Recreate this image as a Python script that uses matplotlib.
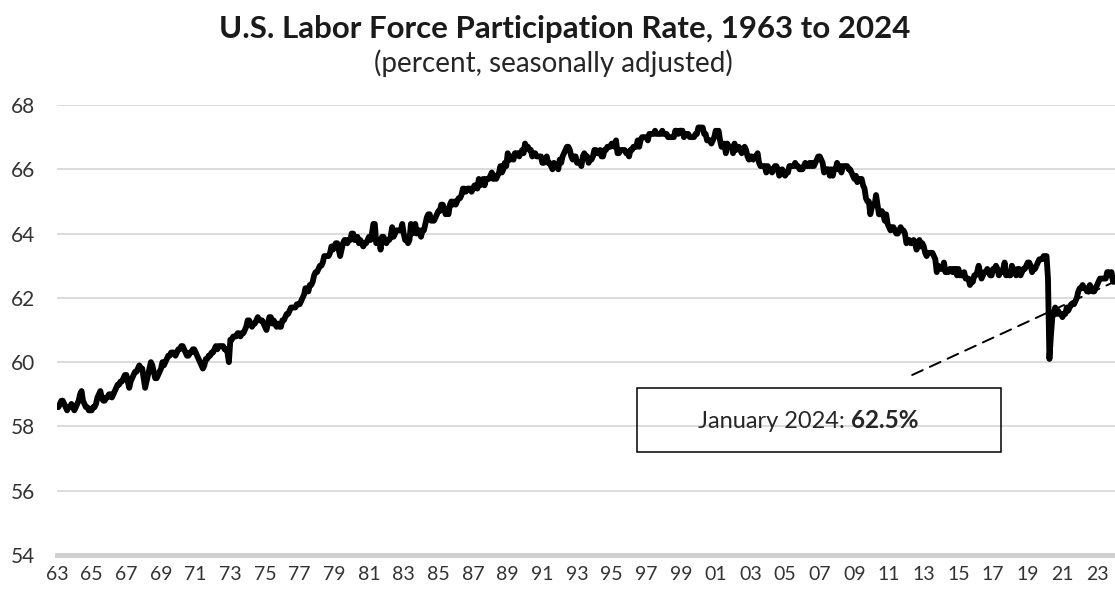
import numpy as np
import matplotlib
matplotlib.use("Agg")
import matplotlib.pyplot as plt
from matplotlib.patches import Rectangle

plt.rcParams['font.family'] = ['Lato', 'DejaVu Sans']

# monthly LFPR, Jan 1963 .. Jan 2024 (one row per year)
lfpr = [
    58.6, 58.6, 58.7, 58.8, 58.8, 58.7, 58.6, 58.5, 58.6, 58.6, 58.7, 58.6,  # 1963
    58.5, 58.6, 58.7, 58.8, 59.0, 59.1, 58.8, 58.7, 58.6, 58.6, 58.5, 58.5,  # 1964
    58.5, 58.6, 58.6, 58.7, 58.9, 59.0, 59.1, 58.9, 58.8, 58.8, 58.9, 58.9,  # 1965
    59.0, 59.0, 58.9, 59.0, 59.1, 59.2, 59.3, 59.3, 59.4, 59.4, 59.5, 59.6,  # 1966
    59.6, 59.4, 59.2, 59.4, 59.5, 59.6, 59.7, 59.7, 59.8, 59.9, 59.8, 59.8,  # 1967
    59.5, 59.2, 59.4, 59.6, 59.8, 60.0, 59.9, 59.7, 59.5, 59.5, 59.6, 59.7,  # 1968
    59.8, 60.0, 59.9, 60.0, 60.1, 60.2, 60.2, 60.3, 60.3, 60.3, 60.2, 60.3,  # 1969
    60.4, 60.4, 60.5, 60.5, 60.4, 60.3, 60.2, 60.2, 60.3, 60.3, 60.4, 60.4,  # 1970
    60.3, 60.2, 60.1, 60.0, 59.9, 59.8, 59.9, 60.1, 60.1, 60.2, 60.2, 60.3,  # 1971
    60.3, 60.4, 60.5, 60.4, 60.5, 60.5, 60.5, 60.5, 60.4, 60.4, 60.3, 60.0,  # 1972
    60.7, 60.7, 60.8, 60.8, 60.8, 60.9, 60.9, 60.8, 60.9, 60.9, 61.0, 61.1,  # 1973
    61.3, 61.3, 61.2, 61.1, 61.2, 61.2, 61.3, 61.4, 61.3, 61.3, 61.3, 61.2,  # 1974
    61.1, 61.0, 61.2, 61.4, 61.4, 61.2, 61.3, 61.2, 61.1, 61.2, 61.1, 61.1,  # 1975
    61.3, 61.3, 61.4, 61.5, 61.5, 61.6, 61.7, 61.7, 61.7, 61.7, 61.8, 61.8,  # 1976
    61.8, 61.9, 62.0, 62.1, 62.3, 62.2, 62.2, 62.4, 62.4, 62.5, 62.7, 62.8,  # 1977
    62.8, 62.9, 63.0, 63.0, 63.1, 63.3, 63.3, 63.3, 63.3, 63.4, 63.6, 63.5,  # 1978
    63.6, 63.7, 63.7, 63.5, 63.3, 63.5, 63.7, 63.8, 63.8, 63.7, 63.8, 63.8,  # 1979
    64.0, 64.0, 63.8, 63.8, 63.9, 63.7, 63.8, 63.7, 63.6, 63.7, 63.7, 63.8,  # 1980
    63.9, 63.8, 64.0, 64.3, 64.3, 63.7, 63.8, 63.8, 63.5, 63.9, 63.9, 63.8,  # 1981
    63.7, 63.8, 63.8, 63.9, 64.2, 63.9, 64.0, 64.1, 64.1, 64.1, 64.1, 64.3,  # 1982
    64.0, 63.8, 63.8, 63.7, 63.8, 64.3, 64.0, 64.2, 64.3, 64.0, 64.1, 64.1,  # 1983
    63.9, 64.1, 64.1, 64.3, 64.5, 64.6, 64.6, 64.4, 64.4, 64.4, 64.5, 64.6,  # 1984
    64.7, 64.7, 64.9, 64.9, 64.8, 64.6, 64.7, 64.6, 64.9, 65.0, 64.9, 65.0,  # 1985
    64.9, 65.0, 65.1, 65.1, 65.2, 65.4, 65.4, 65.3, 65.4, 65.4, 65.4, 65.3,  # 1986
    65.4, 65.5, 65.5, 65.4, 65.7, 65.5, 65.6, 65.7, 65.5, 65.7, 65.7, 65.7,  # 1987
    65.8, 65.9, 65.7, 65.8, 65.7, 65.8, 65.9, 66.1, 65.9, 66.0, 66.2, 66.1,  # 1988
    66.5, 66.3, 66.3, 66.4, 66.3, 66.5, 66.5, 66.5, 66.4, 66.5, 66.6, 66.5,  # 1989
    66.8, 66.7, 66.7, 66.6, 66.6, 66.4, 66.5, 66.5, 66.4, 66.4, 66.4, 66.4,  # 1990
    66.2, 66.2, 66.3, 66.4, 66.2, 66.2, 66.1, 66.0, 66.2, 66.1, 66.1, 66.0,  # 1991
    66.3, 66.2, 66.4, 66.5, 66.6, 66.7, 66.7, 66.6, 66.4, 66.3, 66.4, 66.4,  # 1992
    66.2, 66.2, 66.2, 66.1, 66.4, 66.5, 66.4, 66.4, 66.2, 66.3, 66.3, 66.4,  # 1993
    66.6, 66.6, 66.5, 66.5, 66.6, 66.4, 66.4, 66.6, 66.6, 66.7, 66.7, 66.7,  # 1994
    66.8, 66.8, 66.7, 66.9, 66.5, 66.5, 66.6, 66.6, 66.6, 66.6, 66.5, 66.5,  # 1995
    66.4, 66.6, 66.6, 66.7, 66.7, 66.7, 66.9, 66.7, 66.9, 67.0, 67.0, 67.0,  # 1996
    67.0, 66.9, 67.1, 67.1, 67.1, 67.1, 67.2, 67.1, 67.1, 67.1, 67.1, 67.2,  # 1997
    67.1, 67.1, 67.1, 67.0, 67.0, 67.0, 67.0, 67.0, 67.2, 67.2, 67.1, 67.2,  # 1998
    67.2, 67.2, 67.0, 67.1, 67.1, 67.1, 67.0, 67.0, 67.0, 67.0, 67.1, 67.1,  # 1999
    67.3, 67.3, 67.3, 67.3, 67.1, 67.1, 66.9, 66.9, 66.9, 66.8, 66.9, 67.0,  # 2000
    67.2, 67.1, 67.2, 66.9, 66.7, 66.7, 66.8, 66.5, 66.8, 66.7, 66.7, 66.7,  # 2001
    66.5, 66.8, 66.6, 66.7, 66.7, 66.6, 66.5, 66.6, 66.7, 66.6, 66.4, 66.3,  # 2002
    66.4, 66.4, 66.3, 66.4, 66.4, 66.5, 66.2, 66.1, 66.1, 66.1, 66.1, 65.9,  # 2003
    66.1, 66.0, 66.0, 65.9, 66.0, 66.1, 66.1, 66.0, 65.8, 65.9, 66.0, 65.9,  # 2004
    65.8, 65.9, 65.9, 66.1, 66.1, 66.1, 66.1, 66.2, 66.1, 66.1, 66.0, 66.0,  # 2005
    66.0, 66.1, 66.2, 66.1, 66.1, 66.2, 66.1, 66.2, 66.1, 66.2, 66.3, 66.4,  # 2006
    66.4, 66.3, 66.2, 65.9, 66.0, 66.0, 66.0, 65.8, 66.0, 65.8, 66.0, 66.0,  # 2007
    66.2, 66.0, 66.1, 65.9, 66.1, 66.1, 66.1, 66.1, 66.0, 66.0, 65.9, 65.8,  # 2008
    65.7, 65.8, 65.6, 65.7, 65.7, 65.7, 65.5, 65.4, 65.1, 65.0, 65.0, 64.6,  # 2009
    64.8, 64.9, 64.9, 65.2, 64.9, 64.6, 64.6, 64.7, 64.6, 64.4, 64.6, 64.3,  # 2010
    64.2, 64.1, 64.2, 64.2, 64.1, 64.0, 64.0, 64.1, 64.2, 64.1, 64.1, 64.0,  # 2011
    63.7, 63.8, 63.8, 63.7, 63.7, 63.8, 63.7, 63.5, 63.6, 63.8, 63.6, 63.7,  # 2012
    63.6, 63.4, 63.3, 63.4, 63.4, 63.4, 63.4, 63.3, 63.2, 62.8, 63.0, 62.9,  # 2013
    62.9, 62.9, 63.1, 62.8, 62.8, 62.8, 62.9, 62.9, 62.8, 62.9, 62.9, 62.7,  # 2014
    62.9, 62.7, 62.7, 62.7, 62.8, 62.6, 62.6, 62.6, 62.4, 62.5, 62.5, 62.7,  # 2015
    62.7, 62.8, 63.0, 62.8, 62.6, 62.7, 62.8, 62.8, 62.9, 62.8, 62.7, 62.7,  # 2016
    62.9, 62.9, 63.0, 62.9, 62.7, 62.8, 62.8, 62.9, 63.1, 62.7, 62.8, 62.7,  # 2017
    62.7, 63.0, 62.9, 62.8, 62.7, 62.9, 62.9, 62.7, 62.8, 62.9, 62.9, 63.0,  # 2018
    63.1, 63.1, 63.0, 62.8, 62.9, 62.9, 63.0, 63.1, 63.2, 63.2, 63.2, 63.3,  # 2019
    63.3, 63.3, 62.6, 60.1, 60.8, 61.4, 61.5, 61.7, 61.5, 61.6, 61.5, 61.5,  # 2020
    61.4, 61.5, 61.5, 61.7, 61.6, 61.7, 61.8, 61.8, 61.8, 61.9, 62.0, 62.2,  # 2021
    62.3, 62.3, 62.4, 62.3, 62.3, 62.2, 62.2, 62.4, 62.3, 62.2, 62.2, 62.3,  # 2022
    62.4, 62.5, 62.6, 62.6, 62.6, 62.6, 62.6, 62.8, 62.8, 62.7, 62.8, 62.5,  # 2023
    62.5,                                                                    # 2024
]

start_year = 1963
tick_years = list(range(1963, 2024, 2))
tick_labels = [f"{y % 100:02d}" for y in tick_years]
y_ticks = [54, 56, 58, 60, 62, 64, 66, 68]
latest_label = "January 2024:"
latest_value = "62.5%"

months = np.arange(len(lfpr))

fig = plt.figure(figsize=(11.15, 5.97), dpi=100)
ax = fig.add_axes([57 / 1115, 42 / 597, 1058 / 1115, 450 / 597])

ax.plot(months, lfpr, color="black", lw=4.2, solid_joinstyle="round",
        solid_capstyle="round", zorder=3)

ax.set_xlim(0, len(lfpr) - 0.6)
ax.set_ylim(54, 68)
ax.set_yticks(y_ticks)
ax.set_xticks([(y - start_year) * 12 for y in tick_years])
ax.set_xticklabels(tick_labels)

ax.grid(axis="y", color="#d9d9d9", lw=1.3)
ax.set_axisbelow(True)
for s in ["top", "right", "left"]:
    ax.spines[s].set_visible(False)
ax.spines["bottom"].set_color("#cfcfcf")
ax.spines["bottom"].set_linewidth(3.5)
ax.tick_params(axis="both", length=0, colors="#333333")
ax.tick_params(axis="y", pad=16, labelsize=15)
ax.tick_params(axis="x", pad=8, labelsize=14)

# call-out for the latest reading
ax.annotate("", xy=(months[-1], lfpr[-1]), xytext=(592, 59.6),
            arrowprops=dict(arrowstyle="-", color="black", lw=1.4,
                            linestyle=(0, (6, 4)), shrinkA=0, shrinkB=0))
ax.add_patch(Rectangle((0.548, 0.229), 0.344, 0.142, transform=ax.transAxes,
                       fill=False, edgecolor="black", lw=1.1, zorder=4))
ax.text(0.7445, 0.282, latest_label, transform=ax.transAxes, ha="right",
        va="baseline", fontsize=17, color="#262626")
ax.text(0.7505, 0.282, latest_value, transform=ax.transAxes, ha="left",
        va="baseline", fontsize=17.5, fontweight="bold", color="#262626")

fig.text(0.506, 0.951, "U.S. Labor Force Participation Rate, 1963 to 2024",
         ha="center", va="center", fontsize=22.5, fontweight="bold", color="#1a1a1a")
fig.text(0.496, 0.894, "(percent, seasonally adjusted)",
         ha="center", va="center", fontsize=20, color="#262626")

fig.savefig("out.png", dpi=100)
